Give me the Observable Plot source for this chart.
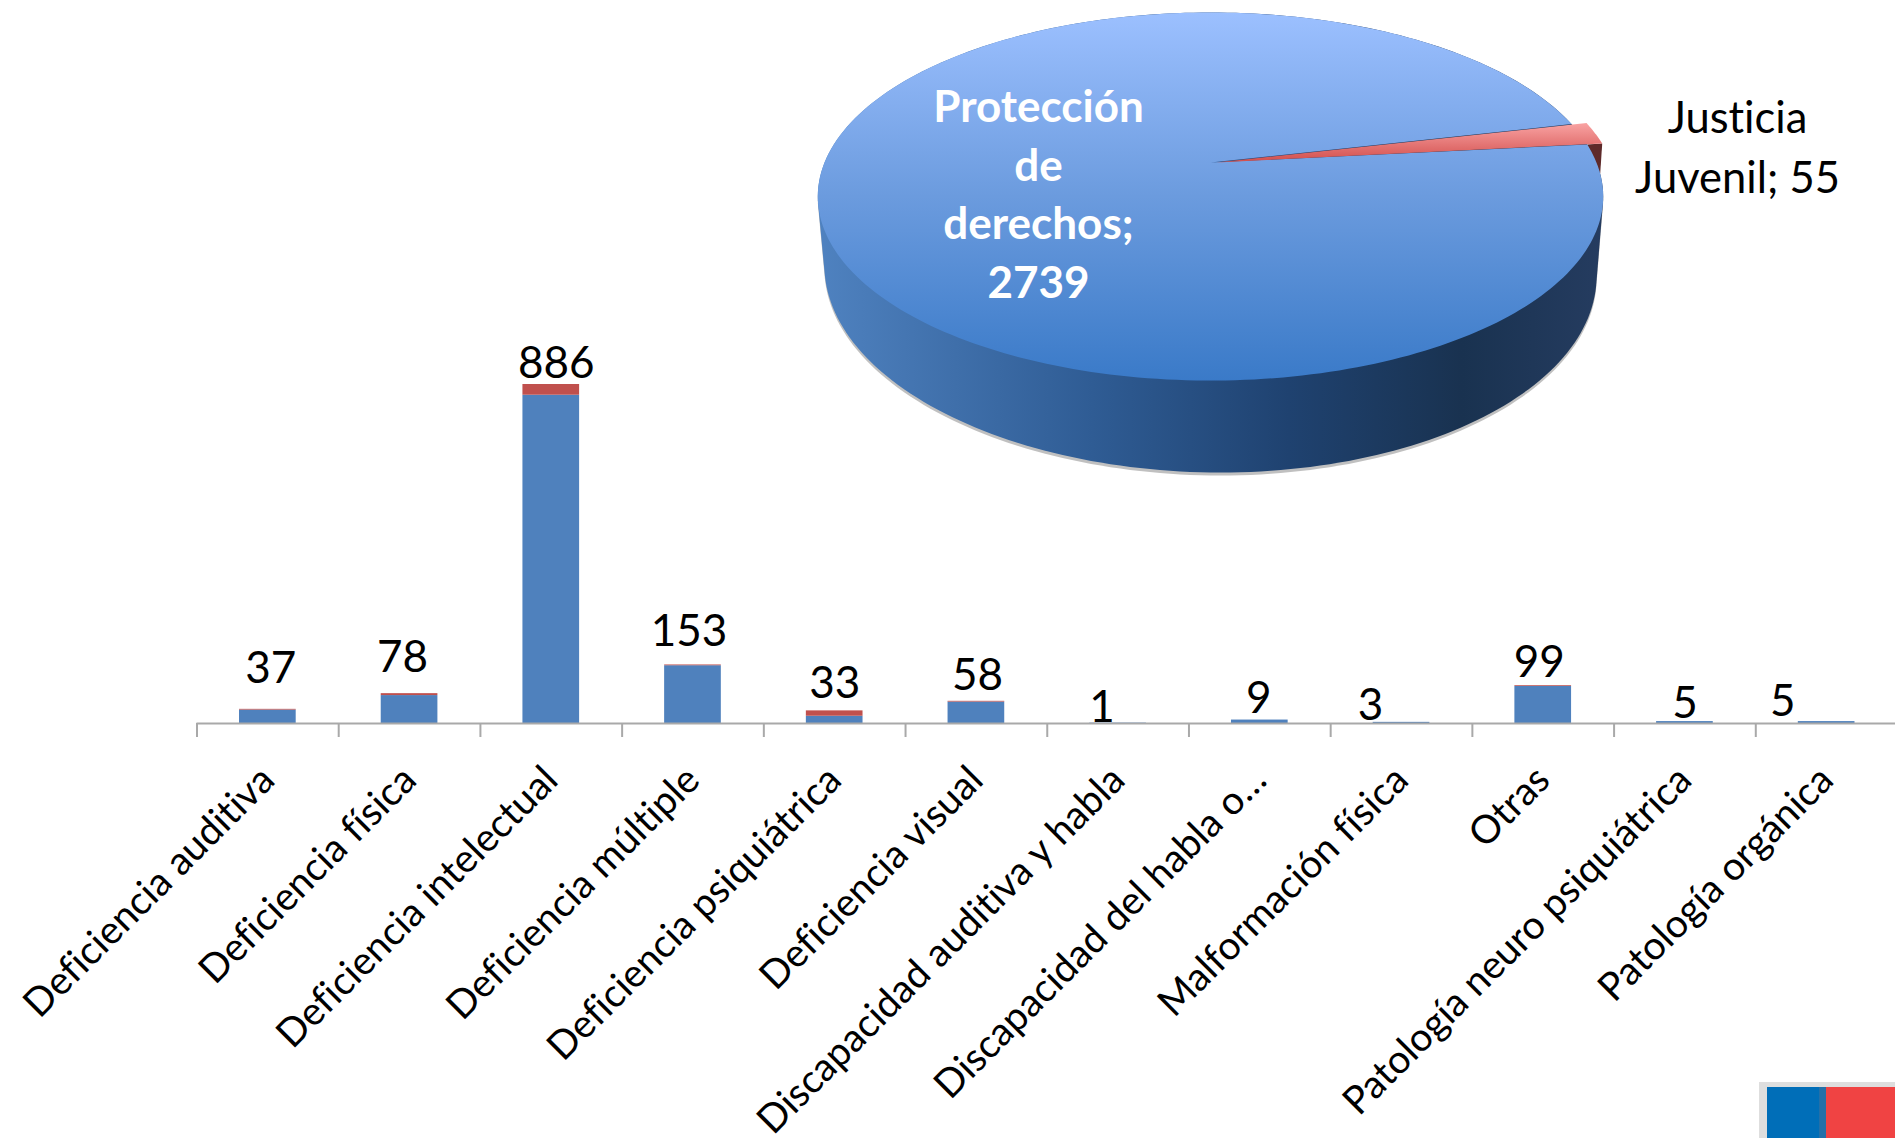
<!DOCTYPE html>
<html><head><meta charset="utf-8">
<script src="https://cdn.jsdelivr.net/npm/d3@7"></script>
<script src="https://cdn.jsdelivr.net/npm/@observablehq/plot@0.6"></script>
<style>
html,body{margin:0;padding:0;background:#fff;width:1895px;height:1138px;overflow:hidden}
#stage{position:relative;width:1895px;height:1138px;overflow:hidden}
#stage svg{position:absolute;left:0;top:0;overflow:hidden;font-variant-ligatures:none}
.logo{position:absolute}
</style></head><body><div id="stage"></div>
<script>
// ---- data ----
const categories = ["Deficiencia auditiva","Deficiencia física","Deficiencia intelectual","Deficiencia múltiple","Deficiencia psiquiátrica","Deficiencia visual","Discapacidad auditiva y habla","Discapacidad del habla o…","Malformación física","Otras","Patología neuro psiquiátrica","Patología orgánica"];
const proteccion = [35,73,858,151,19,56,1,9,3,97,5,5];
const justicia   = [2,5,28,2,14,2,0,0,0,2,0,0];
const totals     = [37,78,886,153,33,58,1,9,3,99,5,5];
const pieNames   = ["Protección de derechos","Justicia Juvenil"];
const pieValues  = [2739,55];
// ---- layout ----
const labelLift  = [52,47,32,44,38,37,26,32,28,34,29,31];
const labelShift = [3,-7,5,-4,0,1,-16,-1,-31,-4,0,-44];
const FONT = "Lato, Carlito, 'Noto Sans', sans-serif";
const stage = document.getElementById("stage");

const rows = categories.flatMap((c,i)=>[
  {cat:c,series:"Protección de derechos",value:proteccion[i]},
  {cat:c,series:"Justicia Juvenil",value:justicia[i]}
]);
const step = 141.7;
const bars = Plot.plot({
  width:1895,height:1138,
  marginLeft:196.5,marginRight:-2,marginTop:384,marginBottom:415,
  style:{background:"transparent",fontFamily:FONT},
  x:{domain:categories,paddingInner:0.6,paddingOuter:0.3,align:0.5,round:false,axis:null},
  y:{domain:[0,886],axis:null},
  color:{domain:pieNames,range:["#4f81bd","#c0504d"]},
  marks:[
    Plot.barY(rows,{x:"cat",y:"value",fill:"series"}),
    Plot.ruleY([0],{stroke:"#a9a9a9",strokeWidth:2}),
    Plot.axisX({anchor:"bottom",tickSize:14,dx:-step/2,tickFormat:()=>"",stroke:"#a9a9a9",strokeWidth:2,label:null}),
    Plot.axisX({anchor:"bottom",tickSize:0,tickRotate:-45,tickPadding:50,fontSize:39,fill:"#000",label:null,fontFamily:FONT}),
    Plot.text(totals,{x:categories,y:totals,text:d=>String(d),fontSize:44,fill:"#000",fontFamily:FONT,
      render(index,scales,values,dims,ctx,next){
        const g=next(index,scales,values,dims,ctx);
        d3.select(g).selectAll("text")
          .attr("dy",(_, i)=>-labelLift[index[i]])
          .attr("dx",(_, i)=>labelShift[index[i]])
          .attr("dominant-baseline","middle");
        return g;
      }})
  ]
});
stage.append(bars);

// ---- 3D pie: value-driven slices in unit-circle coordinates, seen in perspective ----
const tilt = 0.185, faceRotation = 5.9*Math.PI/180;
const project = (a)=>{
  const u=Math.cos(a), v=-Math.sin(a), w=1-tilt*v;
  return [0.982*u/w, -0.185+0.966*v/w];
};
const arcPts=(a0,a1,n,f)=>d3.range(n+1).map(i=>f(a0+(a1-a0)*i/n));
const sweep = pieValues[1]/d3.sum(pieValues)*2*Math.PI;
const a0 = faceRotation, a1 = faceRotation+sweep;
const pt = 1/393, pv = 1/184;              // one pixel in pie units
const centre = [0,-0.185];
const rim = arcPts(0,2*Math.PI,240,project);
const lower = arcPts(0,2*Math.PI,240,a=>[(386*Math.cos(a)+Math.max(0,10*Math.sin(a)))*pt,(74+202*Math.sin(a))*pv]);
const hull = d3.polygonHull(rim.concat(lower));
const closed = p=>p.concat([p[0]]);
const poly=(pts,fill,extra={})=>Plot.line(closed(pts),{x:d=>d[0],y:d=>d[1],fill,stroke:"none",curve:"linear",...extra});
const blueFace = [centre].concat(arcPts(a1,a0+2*Math.PI,300,project));
const ex=15*pt, ey=-1*pv;
const redFace = [[centre[0]+6*pt,centre[1]]].concat(arcPts(a0,a1,12,a=>{const p=project(a);return [p[0]+ex,p[1]+ey];}));
const corner = project(a0);
const redWall = [corner,[corner[0]+ex,corner[1]+ey],[corner[0]+13*pt,corner[1]+29*pv]];
const defs = ()=>{
  const s=d3.create("svg:defs");
  const grad=(id,vertical,stops)=>{
    const g=s.append("linearGradient").attr("id",id).attr("x1",0).attr("y1",0).attr("x2",vertical?0:1).attr("y2",vertical?1:0);
    stops.forEach(([o,c])=>g.append("stop").attr("offset",o).attr("stop-color",c));
  };
  grad("faceBlue",true,[[0,"#9cc0ff"],[0.5,"#6b9bde"],[1,"#3a7ac8"]]);
  grad("wallBlue",false,[[0,"#4f82c0"],[0.35,"#2f5c94"],[0.6,"#1f4270"],[0.82,"#193250"],[1,"#253c60"]]);
  grad("faceRed",true,[[0,"#f9a3a3"],[1,"#d24e4c"]]);
  s.append("filter").attr("id","soft").attr("x","-5%").attr("y","-5%").attr("width","110%").attr("height","110%")
    .append("feGaussianBlur").attr("stdDeviation",3);
  return s.node();
};
const pie = Plot.plot({
  width:1895,height:1138,margin:0,
  style:{background:"transparent",fontFamily:FONT},
  x:{domain:[-1,1],range:[817,1603],axis:null},
  y:{domain:[-1,1],range:[12,380],axis:null},
  marks:[
    defs,
    poly(hull.map(p=>[p[0],p[1]+3*pv]),"#8c8c8c",{fillOpacity:0.55,style:"filter:url(#soft)"}),
    poly(hull,"url(#wallBlue)"),
    poly(redWall,"#5e2a2a"),
    poly(blueFace,"url(#faceBlue)"),
    poly(redFace,"url(#faceRed)"),
    Plot.text(["Protección\nde\nderechos;\n"+pieValues[0]],{x:[0],y:[0],dx:-172,dy:-5,lineHeight:1.33,fontSize:44,fontWeight:700,fill:"#fff",fontFamily:FONT}),
    Plot.text(["Justicia\nJuvenil; "+pieValues[1]],{x:[1],y:[0],dx:134,dy:-53,lineHeight:1.38,fontSize:43.5,fill:"#000",fontFamily:FONT})
  ]
});
stage.append(pie);

// ---- corner brand mark of the slide ----
[["#dedede",1759,1082,136,56],["#006eb8",1767,1087,60,51],["#f04343",1826,1087,69,51],["#2470a8",1819,1087,7,51]].forEach(([c,l,t,w,h])=>{
  const d=document.createElement("div");d.className="logo";
  d.style.cssText=`background:${c};left:${l}px;top:${t}px;width:${w}px;height:${h}px`;
  stage.append(d);
});
</script></body></html>
